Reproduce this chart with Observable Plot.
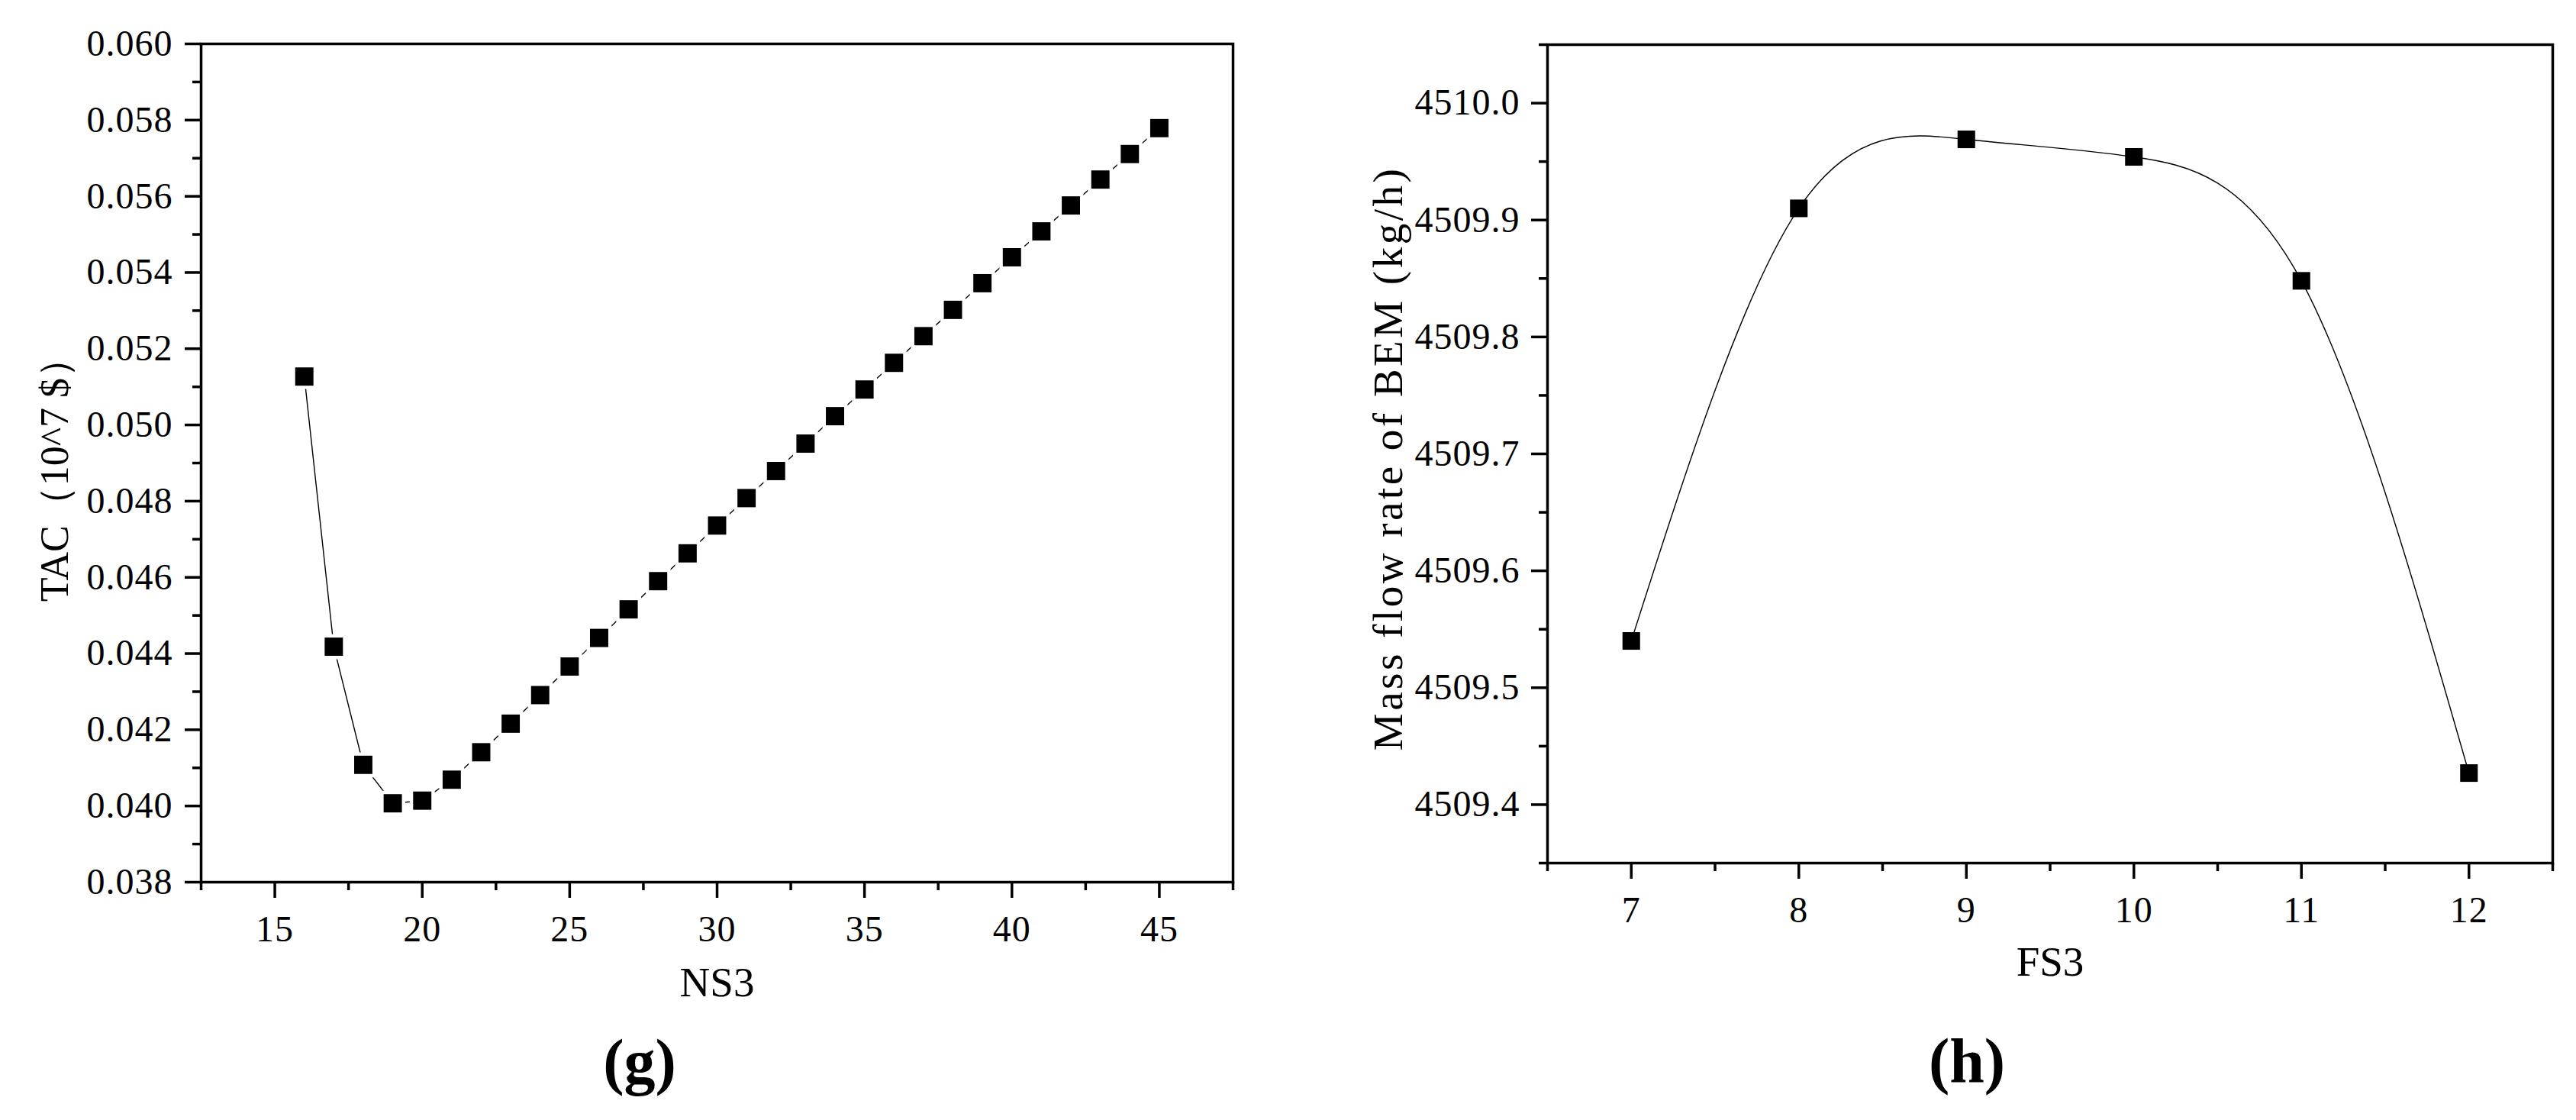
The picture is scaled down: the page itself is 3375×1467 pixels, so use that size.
<!DOCTYPE html>
<html>
<head>
<meta charset="utf-8">
<script src="https://cdn.jsdelivr.net/npm/d3@7"></script>
<script src="https://cdn.jsdelivr.net/npm/@observablehq/plot@0.6"></script>
<style>
  html, body { margin: 0; padding: 0; background: #fff; }
  #root { position: relative; width: 3375px; height: 1467px; background: #fff; overflow: hidden; }
  .panel { position: absolute; top: 0; }
  .cap { position: absolute; transform: translate(-50%, -50%); font: bold 82px "Liberation Serif", serif; line-height: 1; color: #000; white-space: nowrap; }
</style>
</head>
<body>
<div id="root"></div>
<script>
// ---------- Panel (g): TAC vs NS3 ----------
const ns3 = [16, 17, 18, 19, 20, 21, 22, 23, 24, 25, 26, 27, 28, 29, 30,
             31, 32, 33, 34, 35, 36, 37, 38, 39, 40, 41, 42, 43, 44, 45];
const tac = [0.05127, 0.04418, 0.04108, 0.04007, 0.04014, 0.04069, 0.04141, 0.04216, 0.04291, 0.04366,
             0.04441, 0.04516, 0.04590, 0.04663, 0.04736, 0.04808, 0.04879, 0.04951, 0.05023, 0.05093,
             0.05163, 0.05233, 0.05302, 0.05372, 0.05440, 0.05508, 0.05576, 0.05644, 0.05711, 0.05779];
const ns3Ticks = [15, 20, 25, 30, 35, 40, 45];
const ns3MinorTicks = [12.5, 17.5, 22.5, 27.5, 32.5, 37.5, 42.5, 47.5];
const tacTicks = [0.038, 0.040, 0.042, 0.044, 0.046, 0.048, 0.050, 0.052, 0.054, 0.056, 0.058, 0.060];
const tacMinorTicks = [0.039, 0.041, 0.043, 0.045, 0.047, 0.049, 0.051, 0.053, 0.055, 0.057, 0.059];
const ns3Domain = [12.5, 47.5];
const tacDomain = [0.038, 0.060];
const gXLabel = "NS3";
const gYLabel = "TAC（10^7 $）";
const gCaption = "(g)";

// ---------- Panel (h): Mass flow rate of BEM vs FS3 ----------
const fs3 = [7, 8, 9, 10, 11, 12];
const massFlow = [4509.540, 4509.910, 4509.969, 4509.954, 4509.848, 4509.427];
const fs3Ticks = [7, 8, 9, 10, 11, 12];
const fs3MinorTicks = [6.5, 7.5, 8.5, 9.5, 10.5, 11.5, 12.5];
const massTicks = [4509.4, 4509.5, 4509.6, 4509.7, 4509.8, 4509.9, 4510.0];
const massMinorTicks = [4509.35, 4509.45, 4509.55, 4509.65, 4509.75, 4509.85, 4509.95, 4510.05];
const fs3Domain = [6.5, 12.5];
const massDomain = [4509.35, 4510.05];
const hXLabel = "FS3";
const hYLabel = "Mass flow rate of BEM (kg/h)";
const hCaption = "(h)";

const FONT = "'Liberation Serif', 'Times New Roman', serif";
const AXW = 3.5;
const TICKFONT = 48;
const LABELFONT = 55;

const gData = ns3.map((x, i) => ({x, y: tac[i]}));
const hData = fs3.map((x, i) => ({x, y: massFlow[i]}));

const root = document.getElementById("root");

function setLetterSpacing(svg, text, spacing) {
  svg.querySelectorAll("text").forEach(t => {
    if (t.textContent === text) t.style.letterSpacing = spacing;
  });
}

const gPlot = Plot.plot({
  width: 1700, height: 1467,
  marginLeft: 263, marginRight: 85, marginTop: 57, marginBottom: 312,
  x: {domain: ns3Domain},
  y: {domain: tacDomain},
  style: {fontFamily: FONT, fontSize: TICKFONT + "px", color: "black", background: "white", letterSpacing: "1px", overflow: "visible"},
  marks: [
    Plot.axisY({ticks: tacTicks, tickSize: 21, tickPadding: 16, strokeWidth: AXW, tickFormat: d3.format(".3f"), fontSize: TICKFONT, label: null}),
    Plot.axisY({ticks: tacMinorTicks, tickSize: 11, strokeWidth: AXW, fill: "none", label: null}),
    Plot.axisX({ticks: ns3Ticks, tickSize: 21, tickPadding: 22, strokeWidth: AXW, tickFormat: d3.format("d"), fontSize: TICKFONT, label: null}),
    Plot.axisX({ticks: ns3MinorTicks, tickSize: 11, strokeWidth: AXW, fill: "none", label: null}),
    Plot.frame({stroke: "black", strokeWidth: AXW}),
    Plot.line(gData, {x: "x", y: "y", stroke: "black", strokeWidth: 1.4}),
    Plot.dot(gData, {x: "x", y: "y", symbol: "square", r: 18.5, fill: "white", stroke: "none"}),
    Plot.dot(gData, {x: "x", y: "y", symbol: "square", r: 13.5, fill: "black", stroke: "none"}),
    Plot.text([gXLabel], {text: d => d, frameAnchor: "bottom", textAnchor: "middle", lineAnchor: "middle", dy: 132, fontSize: LABELFONT, fill: "black"}),
    Plot.text([gYLabel], {text: d => d, frameAnchor: "left", textAnchor: "middle", lineAnchor: "middle", dx: -191, dy: 9, rotate: -90, fontSize: 52, fill: "black"})
  ]
});
gPlot.classList.add("panel");
gPlot.style.left = "0px";
setLetterSpacing(gPlot, gXLabel, "0px");
setLetterSpacing(gPlot, gYLabel, "0px");
root.appendChild(gPlot);

const hPlot = Plot.plot({
  width: 1675, height: 1467,
  marginLeft: 327, marginRight: 31, marginTop: 58, marginBottom: 337,
  x: {domain: fs3Domain},
  y: {domain: massDomain},
  style: {fontFamily: FONT, fontSize: TICKFONT + "px", color: "black", background: "white", letterSpacing: "1px", overflow: "visible"},
  marks: [
    Plot.axisY({ticks: massTicks, tickSize: 21, tickPadding: 15, strokeWidth: AXW, tickFormat: d3.format(".1f"), fontSize: TICKFONT, label: null}),
    Plot.axisY({ticks: massMinorTicks, tickSize: 11, strokeWidth: AXW, fill: "none", label: null}),
    Plot.axisX({ticks: fs3Ticks, tickSize: 21, tickPadding: 22, strokeWidth: AXW, tickFormat: d3.format("d"), fontSize: TICKFONT, label: null}),
    Plot.axisX({ticks: fs3MinorTicks, tickSize: 11, strokeWidth: AXW, fill: "none", label: null}),
    Plot.frame({stroke: "black", strokeWidth: AXW}),
    Plot.line(hData, {x: "x", y: "y", curve: "natural", stroke: "black", strokeWidth: 1.4}),
    Plot.dot(hData, {x: "x", y: "y", symbol: "square", r: 13, fill: "black", stroke: "none"}),
    Plot.text([hXLabel], {text: d => d, frameAnchor: "bottom", textAnchor: "middle", lineAnchor: "middle", dy: 130, fontSize: LABELFONT, fill: "black"}),
    Plot.text([hYLabel], {text: d => d, frameAnchor: "left", textAnchor: "middle", lineAnchor: "middle", dx: -208, dy: 6, rotate: -90, fontSize: LABELFONT, fill: "black"})
  ]
});
hPlot.classList.add("panel");
hPlot.style.left = "1700px";
setLetterSpacing(hPlot, hXLabel, "0px");
setLetterSpacing(hPlot, hYLabel, "3.5px");
root.appendChild(hPlot);

function addCaption(text, cx, cy) {
  const d = document.createElement("div");
  d.className = "cap";
  d.style.left = cx + "px";
  d.style.top = cy + "px";
  d.textContent = text;
  root.appendChild(d);
}
addCaption(gCaption, 838, 1391);
addCaption(hCaption, 2577, 1390);
</script>
</body>
</html>
